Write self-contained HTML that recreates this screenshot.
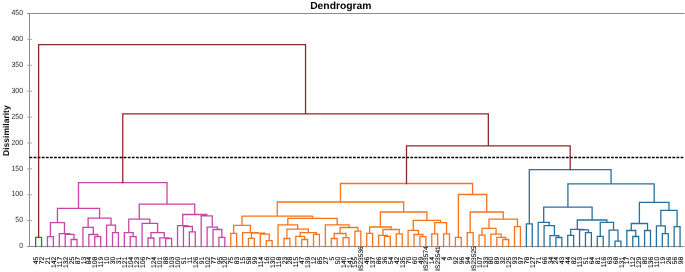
<!DOCTYPE html>
<html><head><meta charset="utf-8"><style>
html,body{margin:0;padding:0;background:#fff;}
svg{will-change:transform;}
body{width:685px;height:272px;overflow:hidden;}
svg{display:block;}
text{font-family:"Liberation Sans",sans-serif;text-rendering:geometricPrecision;}
.yl{font-size:7.5px;fill:#2a2a2a;}
.xl{font-size:6.8px;fill:#000;stroke:#000;stroke-width:0.08px;}
.t{font-size:10.3px;font-weight:bold;fill:#000;}
.at{font-size:8.5px;font-weight:bold;fill:#111;}
</style></head><body>
<svg width="685" height="272" viewBox="0 0 685 272">
<path d="M29.5 13.5V246.5M27 13.5H684.5M27 246.5H684.5" stroke="#8c8c8c" stroke-width="1" fill="none"/>
<path d="M27 220.61H32M27 194.72H32M27 168.83H32M27 142.94H32M27 117.06H32M27 91.17H32M27 65.28H32M27 39.39H32" stroke="#a8a8a8" stroke-width="1" fill="none"/>
<text x="23.0" y="248.20" text-anchor="end" class="yl" textLength="3.85" lengthAdjust="spacingAndGlyphs">0</text>
<text x="23.0" y="222.31" text-anchor="end" class="yl" textLength="7.70" lengthAdjust="spacingAndGlyphs">50</text>
<text x="23.0" y="196.42" text-anchor="end" class="yl" textLength="11.55" lengthAdjust="spacingAndGlyphs">100</text>
<text x="23.0" y="170.53" text-anchor="end" class="yl" textLength="11.55" lengthAdjust="spacingAndGlyphs">150</text>
<text x="23.0" y="144.64" text-anchor="end" class="yl" textLength="11.55" lengthAdjust="spacingAndGlyphs">200</text>
<text x="23.0" y="118.76" text-anchor="end" class="yl" textLength="11.55" lengthAdjust="spacingAndGlyphs">250</text>
<text x="23.0" y="92.87" text-anchor="end" class="yl" textLength="11.55" lengthAdjust="spacingAndGlyphs">300</text>
<text x="23.0" y="66.98" text-anchor="end" class="yl" textLength="11.55" lengthAdjust="spacingAndGlyphs">350</text>
<text x="23.0" y="41.09" text-anchor="end" class="yl" textLength="11.55" lengthAdjust="spacingAndGlyphs">400</text>
<text x="23.0" y="15.20" text-anchor="end" class="yl" textLength="11.55" lengthAdjust="spacingAndGlyphs">450</text>
<path d="M35.65 246.50V237.40H41.56V246.50" stroke="#24882a" stroke-width="1.3" fill="none" stroke-linecap="square"/>
<path d="M47.47 246.50V236.60H53.39V246.50M71.12 246.50V239.50H77.03V246.50M65.21 246.50V234.40H74.08V239.50M59.30 246.50V233.70H69.64V234.40M50.43 236.60V222.60H64.47V233.70M94.77 246.50V236.60H100.68V246.50M88.86 246.50V234.50H97.73V236.60M82.95 246.50V227.40H93.29V234.50M112.51 246.50V232.70H118.42V246.50M106.59 246.50V225.10H115.46V232.70M88.12 227.40V218.20H111.03V225.10M57.45 222.60V208.30H99.57V218.20M130.24 246.50V236.70H136.15V246.50M124.33 246.50V232.70H133.20V236.70M147.98 246.50V238.00H153.89V246.50M165.71 246.50V238.50H171.63V246.50M159.80 246.50V237.80H168.67V238.50M150.93 238.00V232.60H164.24V237.80M142.07 246.50V223.40H157.58V232.60M128.76 232.70V219.10H149.83V223.40M189.36 246.50V231.80H195.27V246.50M183.45 246.50V226.50H192.32V231.80M177.54 246.50V225.60H187.88V226.50M218.92 246.50V237.40H224.83V246.50M213.01 246.50V229.50H221.88V237.40M207.10 246.50V227.20H217.44V229.50M201.19 246.50V215.80H212.27V227.20M182.71 225.60V214.50H206.73V215.80M139.29 219.10V204.20H194.72V214.50M78.51 208.30V182.60H167.01V204.20" stroke="#c845a6" stroke-width="1.3" fill="none" stroke-linecap="square"/>
<path d="M230.75 246.50V233.40H236.66V246.50M248.48 246.50V238.30H254.39V246.50M266.22 246.50V240.60H272.13V246.50M260.31 246.50V234.20H269.17V240.60M251.44 238.30V233.20H264.74V234.20M242.57 246.50V232.60H258.09V233.20M233.70 233.40V225.30H250.33V232.60M283.95 246.50V238.50H289.87V246.50M301.69 246.50V239.50H307.60V246.50M295.78 246.50V236.30H304.65V239.50M313.51 246.50V234.30H319.43V246.50M300.21 236.30V232.70H316.47V234.30M286.91 238.50V229.10H308.34V232.70M278.04 246.50V224.80H297.63V229.10M331.25 246.50V238.50H337.16V246.50M343.07 246.50V237.60H348.99V246.50M334.21 238.50V233.50H346.03V237.60M354.90 246.50V231.10H360.81V246.50M340.12 233.50V227.50H357.85V231.10M325.34 246.50V224.80H348.99V227.50M287.83 224.80V218.40H337.16V224.80M242.02 225.30V216.10H312.50V218.40M366.72 246.50V233.40H372.63V246.50M384.46 246.50V236.30H390.37V246.50M378.55 246.50V235.40H387.41V236.30M396.28 246.50V233.90H402.19V246.50M382.98 235.40V229.50H399.24V233.90M369.68 233.40V227.00H391.11V229.50M419.93 246.50V236.70H425.84V246.50M414.02 246.50V234.50H422.89V236.70M408.11 246.50V230.40H418.45V234.50M431.75 246.50V233.80H437.67V246.50M443.58 246.50V233.80H449.49V246.50M434.71 233.80V222.70H446.53V233.80M413.28 230.40V220.30H440.62V222.70M380.39 227.00V212.00H426.95V220.30M277.26 216.10V202.00H403.67V212.00M455.40 246.50V237.40H461.31V246.50M467.23 246.50V232.70H473.14V246.50M479.05 246.50V235.20H484.96V246.50M502.70 246.50V239.50H508.61V246.50M496.79 246.50V237.30H505.65V239.50M490.87 246.50V234.10H501.22V237.30M482.01 235.20V228.40H496.05V234.10M514.52 246.50V226.70H520.43V246.50M489.03 228.40V219.20H517.48V226.70M470.18 232.70V212.00H503.25V219.20M458.36 237.40V194.50H486.72V212.00M340.46 202.00V183.50H472.54V194.50" stroke="#f7731c" stroke-width="1.3" fill="none" stroke-linecap="square"/>
<path d="M526.35 246.50V223.90H532.26V246.50M555.91 246.50V237.50H561.82V246.50M549.99 246.50V235.70H558.86V237.50M544.08 246.50V225.60H554.43V235.70M538.17 246.50V222.40H549.25V225.60M567.73 246.50V235.40H573.64V246.50M585.47 246.50V232.60H591.38V246.50M579.55 246.50V229.80H588.42V232.60M570.69 235.40V229.30H583.99V229.80M597.29 246.50V236.30H603.20V246.50M615.03 246.50V241.20H620.94V246.50M609.11 246.50V230.10H617.98V241.20M600.25 236.30V222.30H613.55V230.10M577.34 229.30V220.00H606.90V222.30M543.71 222.40V207.10H592.12V220.00M632.76 246.50V236.50H638.67V246.50M626.85 246.50V230.50H635.72V236.50M644.59 246.50V230.50H650.50V246.50M631.28 230.50V223.50H647.54V230.50M662.32 246.50V233.70H668.23V246.50M656.41 246.50V225.80H665.28V233.70M674.15 246.50V226.70H680.06V246.50M660.84 225.80V210.30H677.10V226.70M639.41 223.50V202.40H668.97V210.30M567.91 207.10V183.80H654.19V202.40M529.30 223.90V169.60H611.05V183.80" stroke="#26709f" stroke-width="1.3" fill="none" stroke-linecap="square"/>
<path d="M406.50 183.50V145.80H570.18V169.60M122.76 182.60V113.90H488.34V145.80M38.61 237.40V44.70H305.55V113.90" stroke="#8c2a2a" stroke-width="1.3" fill="none" stroke-linecap="square"/>
<path d="M29.5 157.45H684.5" stroke="#000" stroke-width="1.5" stroke-dasharray="2.75 1.345" fill="none"/>
<g>
<text transform="translate(38.23 256.6) rotate(-90)" text-anchor="end" class="xl" style="font-size:6.8px">45</text>
<text transform="translate(44.15 256.6) rotate(-90)" text-anchor="end" class="xl" style="font-size:6.8px">72</text>
<text transform="translate(50.06 256.6) rotate(-90)" text-anchor="end" class="xl" style="font-size:6.8px">21</text>
<text transform="translate(55.97 256.6) rotate(-90)" text-anchor="end" class="xl" style="font-size:6.8px">142</text>
<text transform="translate(61.88 256.6) rotate(-90)" text-anchor="end" class="xl" style="font-size:6.8px">117</text>
<text transform="translate(67.79 256.6) rotate(-90)" text-anchor="end" class="xl" style="font-size:6.8px">132</text>
<text transform="translate(73.71 256.6) rotate(-90)" text-anchor="end" class="xl" style="font-size:6.8px">25</text>
<text transform="translate(79.62 256.6) rotate(-90)" text-anchor="end" class="xl" style="font-size:6.8px">87</text>
<text transform="translate(85.53 256.6) rotate(-90)" text-anchor="end" class="xl" style="font-size:6.8px">13</text>
<text transform="translate(91.44 256.6) rotate(-90)" text-anchor="end" class="xl" style="font-size:6.8px">84</text>
<text transform="translate(97.35 256.6) rotate(-90)" text-anchor="end" class="xl" style="font-size:6.8px">108</text>
<text transform="translate(103.27 256.6) rotate(-90)" text-anchor="end" class="xl" style="font-size:6.8px">119</text>
<text transform="translate(109.18 256.6) rotate(-90)" text-anchor="end" class="xl" style="font-size:6.8px">10</text>
<text transform="translate(115.09 256.6) rotate(-90)" text-anchor="end" class="xl" style="font-size:6.8px">30</text>
<text transform="translate(121.00 256.6) rotate(-90)" text-anchor="end" class="xl" style="font-size:6.8px">31</text>
<text transform="translate(126.91 256.6) rotate(-90)" text-anchor="end" class="xl" style="font-size:6.8px">121</text>
<text transform="translate(132.83 256.6) rotate(-90)" text-anchor="end" class="xl" style="font-size:6.8px">104</text>
<text transform="translate(138.74 256.6) rotate(-90)" text-anchor="end" class="xl" style="font-size:6.8px">123</text>
<text transform="translate(144.65 256.6) rotate(-90)" text-anchor="end" class="xl" style="font-size:6.8px">106</text>
<text transform="translate(150.56 256.6) rotate(-90)" text-anchor="end" class="xl" style="font-size:6.8px">7</text>
<text transform="translate(156.47 256.6) rotate(-90)" text-anchor="end" class="xl" style="font-size:6.8px">124</text>
<text transform="translate(162.39 256.6) rotate(-90)" text-anchor="end" class="xl" style="font-size:6.8px">101</text>
<text transform="translate(168.30 256.6) rotate(-90)" text-anchor="end" class="xl" style="font-size:6.8px">88</text>
<text transform="translate(174.21 256.6) rotate(-90)" text-anchor="end" class="xl" style="font-size:6.8px">103</text>
<text transform="translate(180.12 256.6) rotate(-90)" text-anchor="end" class="xl" style="font-size:6.8px">100</text>
<text transform="translate(186.03 256.6) rotate(-90)" text-anchor="end" class="xl" style="font-size:6.8px">51</text>
<text transform="translate(191.95 256.6) rotate(-90)" text-anchor="end" class="xl" style="font-size:6.8px">11</text>
<text transform="translate(197.86 256.6) rotate(-90)" text-anchor="end" class="xl" style="font-size:6.8px">126</text>
<text transform="translate(203.77 256.6) rotate(-90)" text-anchor="end" class="xl" style="font-size:6.8px">91</text>
<text transform="translate(209.68 256.6) rotate(-90)" text-anchor="end" class="xl" style="font-size:6.8px">102</text>
<text transform="translate(215.59 256.6) rotate(-90)" text-anchor="end" class="xl" style="font-size:6.8px">77</text>
<text transform="translate(221.51 256.6) rotate(-90)" text-anchor="end" class="xl" style="font-size:6.8px">95</text>
<text transform="translate(227.42 256.6) rotate(-90)" text-anchor="end" class="xl" style="font-size:6.8px">120</text>
<text transform="translate(233.33 256.6) rotate(-90)" text-anchor="end" class="xl" style="font-size:6.8px">75</text>
<text transform="translate(239.24 256.6) rotate(-90)" text-anchor="end" class="xl" style="font-size:6.8px">83</text>
<text transform="translate(245.15 256.6) rotate(-90)" text-anchor="end" class="xl" style="font-size:6.8px">15</text>
<text transform="translate(251.07 256.6) rotate(-90)" text-anchor="end" class="xl" style="font-size:6.8px">58</text>
<text transform="translate(256.98 256.6) rotate(-90)" text-anchor="end" class="xl" style="font-size:6.8px">99</text>
<text transform="translate(262.89 256.6) rotate(-90)" text-anchor="end" class="xl" style="font-size:6.8px">114</text>
<text transform="translate(268.80 256.6) rotate(-90)" text-anchor="end" class="xl" style="font-size:6.8px">16</text>
<text transform="translate(274.71 256.6) rotate(-90)" text-anchor="end" class="xl" style="font-size:6.8px">130</text>
<text transform="translate(280.63 256.6) rotate(-90)" text-anchor="end" class="xl" style="font-size:6.8px">118</text>
<text transform="translate(286.54 256.6) rotate(-90)" text-anchor="end" class="xl" style="font-size:6.8px">23</text>
<text transform="translate(292.45 256.6) rotate(-90)" text-anchor="end" class="xl" style="font-size:6.8px">28</text>
<text transform="translate(298.36 256.6) rotate(-90)" text-anchor="end" class="xl" style="font-size:6.8px">115</text>
<text transform="translate(304.27 256.6) rotate(-90)" text-anchor="end" class="xl" style="font-size:6.8px">47</text>
<text transform="translate(310.19 256.6) rotate(-90)" text-anchor="end" class="xl" style="font-size:6.8px">139</text>
<text transform="translate(316.10 256.6) rotate(-90)" text-anchor="end" class="xl" style="font-size:6.8px">12</text>
<text transform="translate(322.01 256.6) rotate(-90)" text-anchor="end" class="xl" style="font-size:6.8px">85</text>
<text transform="translate(327.92 256.6) rotate(-90)" text-anchor="end" class="xl" style="font-size:6.8px">27</text>
<text transform="translate(333.83 256.6) rotate(-90)" text-anchor="end" class="xl" style="font-size:6.8px">5</text>
<text transform="translate(339.75 256.6) rotate(-90)" text-anchor="end" class="xl" style="font-size:6.8px">50</text>
<text transform="translate(345.66 256.6) rotate(-90)" text-anchor="end" class="xl" style="font-size:6.8px">140</text>
<text transform="translate(351.57 256.6) rotate(-90)" text-anchor="end" class="xl" style="font-size:6.8px">141</text>
<text transform="translate(357.48 256.6) rotate(-90)" text-anchor="end" class="xl" style="font-size:6.8px">155</text>
<text transform="translate(363.32 246.2) rotate(-90)" text-anchor="end" class="xl" style="font-size:6.6px">IS23536</text>
<text transform="translate(369.31 256.6) rotate(-90)" text-anchor="end" class="xl" style="font-size:6.8px">46</text>
<text transform="translate(375.22 256.6) rotate(-90)" text-anchor="end" class="xl" style="font-size:6.8px">137</text>
<text transform="translate(381.13 256.6) rotate(-90)" text-anchor="end" class="xl" style="font-size:6.8px">86</text>
<text transform="translate(387.04 256.6) rotate(-90)" text-anchor="end" class="xl" style="font-size:6.8px">36</text>
<text transform="translate(392.95 256.6) rotate(-90)" text-anchor="end" class="xl" style="font-size:6.8px">54</text>
<text transform="translate(398.87 256.6) rotate(-90)" text-anchor="end" class="xl" style="font-size:6.8px">42</text>
<text transform="translate(404.78 256.6) rotate(-90)" text-anchor="end" class="xl" style="font-size:6.8px">135</text>
<text transform="translate(410.69 256.6) rotate(-90)" text-anchor="end" class="xl" style="font-size:6.8px">70</text>
<text transform="translate(416.60 256.6) rotate(-90)" text-anchor="end" class="xl" style="font-size:6.8px">60</text>
<text transform="translate(422.51 256.6) rotate(-90)" text-anchor="end" class="xl" style="font-size:6.8px">49</text>
<text transform="translate(428.35 246.2) rotate(-90)" text-anchor="end" class="xl" style="font-size:6.6px">IS23574</text>
<text transform="translate(434.34 256.6) rotate(-90)" text-anchor="end" class="xl" style="font-size:6.8px">14</text>
<text transform="translate(440.18 246.2) rotate(-90)" text-anchor="end" class="xl" style="font-size:6.6px">IS23541</text>
<text transform="translate(446.16 256.6) rotate(-90)" text-anchor="end" class="xl" style="font-size:6.8px">4</text>
<text transform="translate(452.07 256.6) rotate(-90)" text-anchor="end" class="xl" style="font-size:6.8px">9</text>
<text transform="translate(457.99 256.6) rotate(-90)" text-anchor="end" class="xl" style="font-size:6.8px">92</text>
<text transform="translate(463.90 256.6) rotate(-90)" text-anchor="end" class="xl" style="font-size:6.8px">96</text>
<text transform="translate(469.81 256.6) rotate(-90)" text-anchor="end" class="xl" style="font-size:6.8px">94</text>
<text transform="translate(475.65 246.2) rotate(-90)" text-anchor="end" class="xl" style="font-size:6.6px">IS23525</text>
<text transform="translate(481.63 256.6) rotate(-90)" text-anchor="end" class="xl" style="font-size:6.8px">107</text>
<text transform="translate(487.55 256.6) rotate(-90)" text-anchor="end" class="xl" style="font-size:6.8px">133</text>
<text transform="translate(493.46 256.6) rotate(-90)" text-anchor="end" class="xl" style="font-size:6.8px">80</text>
<text transform="translate(499.37 256.6) rotate(-90)" text-anchor="end" class="xl" style="font-size:6.8px">89</text>
<text transform="translate(505.28 256.6) rotate(-90)" text-anchor="end" class="xl" style="font-size:6.8px">32</text>
<text transform="translate(511.19 256.6) rotate(-90)" text-anchor="end" class="xl" style="font-size:6.8px">125</text>
<text transform="translate(517.11 256.6) rotate(-90)" text-anchor="end" class="xl" style="font-size:6.8px">93</text>
<text transform="translate(523.02 256.6) rotate(-90)" text-anchor="end" class="xl" style="font-size:6.8px">97</text>
<text transform="translate(528.93 256.6) rotate(-90)" text-anchor="end" class="xl" style="font-size:6.8px">78</text>
<text transform="translate(534.84 256.6) rotate(-90)" text-anchor="end" class="xl" style="font-size:6.8px">127</text>
<text transform="translate(540.75 256.6) rotate(-90)" text-anchor="end" class="xl" style="font-size:6.8px">71</text>
<text transform="translate(546.67 256.6) rotate(-90)" text-anchor="end" class="xl" style="font-size:6.8px">66</text>
<text transform="translate(552.58 256.6) rotate(-90)" text-anchor="end" class="xl" style="font-size:6.8px">34</text>
<text transform="translate(558.49 256.6) rotate(-90)" text-anchor="end" class="xl" style="font-size:6.8px">24</text>
<text transform="translate(564.40 256.6) rotate(-90)" text-anchor="end" class="xl" style="font-size:6.8px">43</text>
<text transform="translate(570.31 256.6) rotate(-90)" text-anchor="end" class="xl" style="font-size:6.8px">44</text>
<text transform="translate(576.23 256.6) rotate(-90)" text-anchor="end" class="xl" style="font-size:6.8px">82</text>
<text transform="translate(582.14 256.6) rotate(-90)" text-anchor="end" class="xl" style="font-size:6.8px">113</text>
<text transform="translate(588.05 256.6) rotate(-90)" text-anchor="end" class="xl" style="font-size:6.8px">51</text>
<text transform="translate(593.96 256.6) rotate(-90)" text-anchor="end" class="xl" style="font-size:6.8px">64</text>
<text transform="translate(599.87 256.6) rotate(-90)" text-anchor="end" class="xl" style="font-size:6.8px">81</text>
<text transform="translate(605.79 256.6) rotate(-90)" text-anchor="end" class="xl" style="font-size:6.8px">116</text>
<text transform="translate(611.70 256.6) rotate(-90)" text-anchor="end" class="xl" style="font-size:6.8px">63</text>
<text transform="translate(617.61 256.6) rotate(-90)" text-anchor="end" class="xl" style="font-size:6.8px">68</text>
<text transform="translate(623.52 256.6) rotate(-90)" text-anchor="end" class="xl" style="font-size:6.8px">131</text>
<text transform="translate(629.43 256.6) rotate(-90)" text-anchor="end" class="xl" style="font-size:6.8px">17</text>
<text transform="translate(635.35 256.6) rotate(-90)" text-anchor="end" class="xl" style="font-size:6.8px">112</text>
<text transform="translate(641.26 256.6) rotate(-90)" text-anchor="end" class="xl" style="font-size:6.8px">129</text>
<text transform="translate(647.17 256.6) rotate(-90)" text-anchor="end" class="xl" style="font-size:6.8px">80</text>
<text transform="translate(653.08 256.6) rotate(-90)" text-anchor="end" class="xl" style="font-size:6.8px">136</text>
<text transform="translate(658.99 256.6) rotate(-90)" text-anchor="end" class="xl" style="font-size:6.8px">110</text>
<text transform="translate(664.91 256.6) rotate(-90)" text-anchor="end" class="xl" style="font-size:6.8px">19</text>
<text transform="translate(670.82 256.6) rotate(-90)" text-anchor="end" class="xl" style="font-size:6.8px">26</text>
<text transform="translate(676.73 256.6) rotate(-90)" text-anchor="end" class="xl" style="font-size:6.8px">56</text>
<text transform="translate(682.64 256.6) rotate(-90)" text-anchor="end" class="xl" style="font-size:6.8px">98</text>
</g>
<text x="340.8" y="8.6" text-anchor="middle" class="t">Dendrogram</text>
<text transform="translate(9.2 130.6) rotate(-90)" text-anchor="middle" class="at">Dissimilarity</text>
</svg>
</body></html>
